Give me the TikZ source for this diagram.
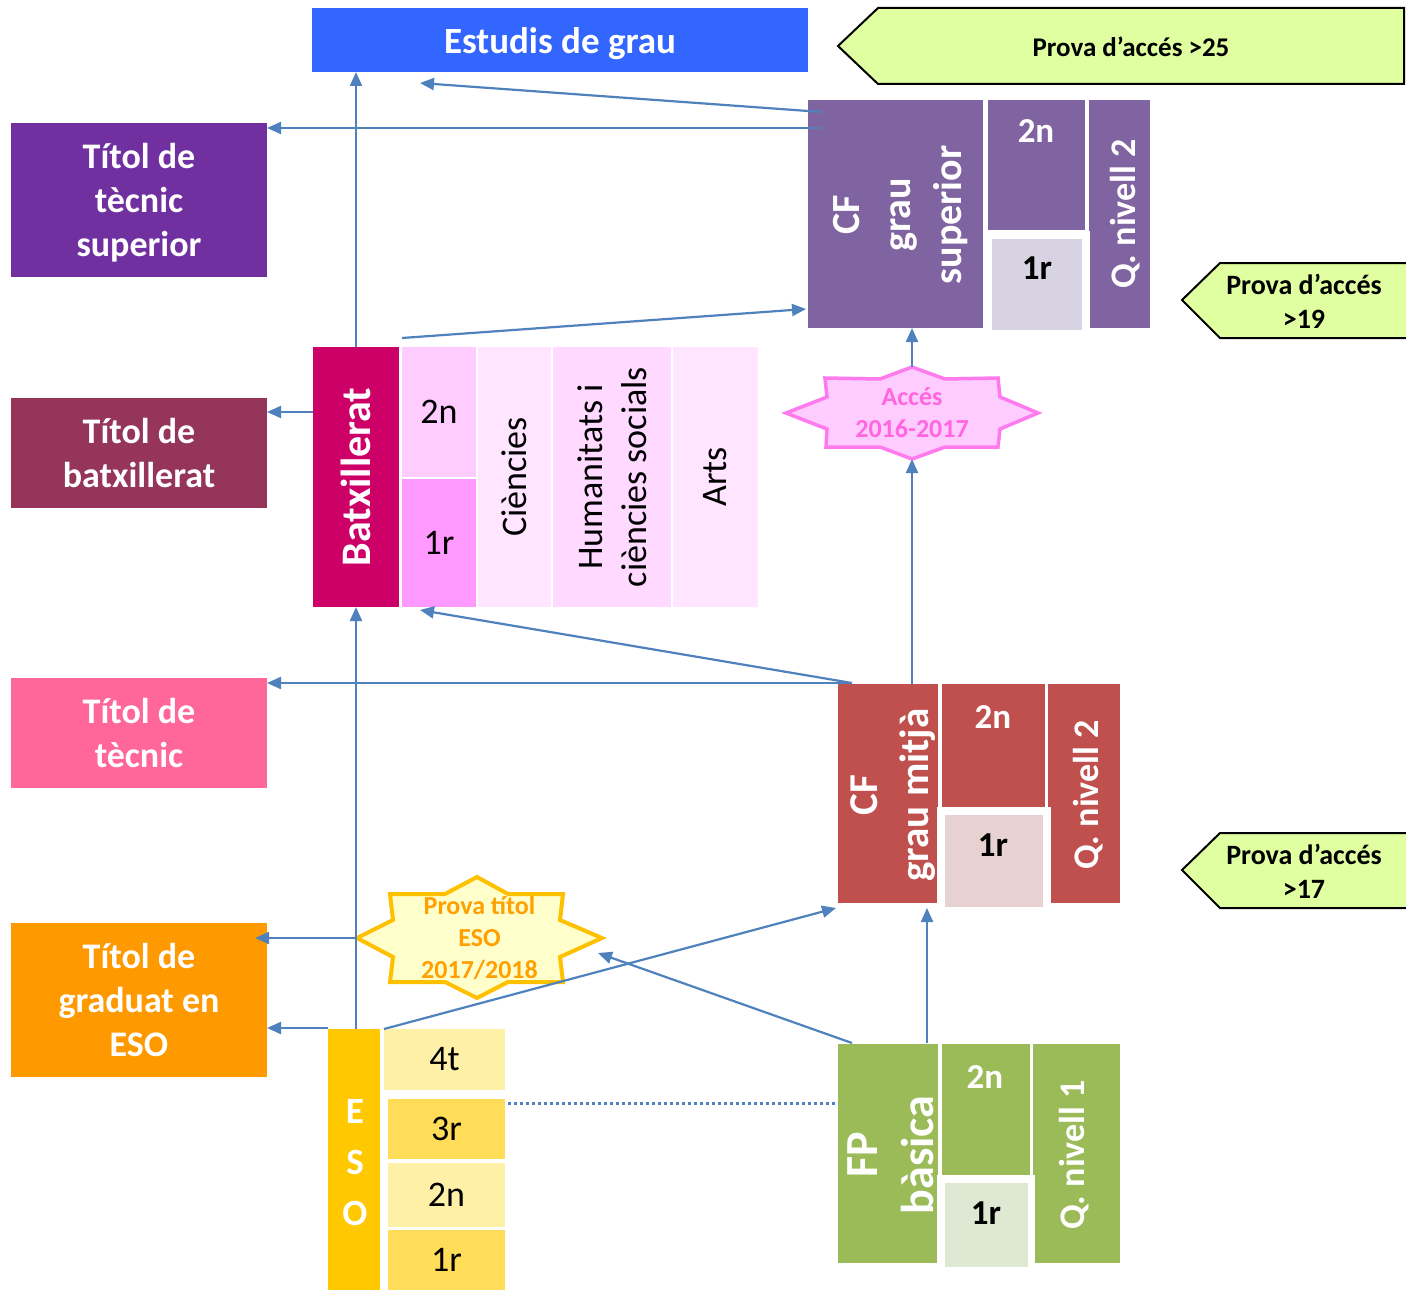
\documentclass[tikz,border=0pt]{standalone}
\usepackage{fontspec}
\setmainfont{Carlito}
\usetikzlibrary{arrows.meta,calc}
\definecolor{estblue}{HTML}{3366FF}
\definecolor{provag}{HTML}{E0FFA0}
\definecolor{tecsupc}{HTML}{7030A0}
\definecolor{cfsupc}{HTML}{8064A2}
\definecolor{cfsupl}{HTML}{D8D3E2}
\definecolor{titbatxc}{HTML}{953559}
\definecolor{batxc}{HTML}{CC0066}
\definecolor{batxtwo}{HTML}{FFCCFF}
\definecolor{batxone}{HTML}{FF99FF}
\definecolor{batxlt}{HTML}{FFE5FF}
\definecolor{batxhum}{HTML}{FFD9FF}
\definecolor{accfill}{HTML}{FFCCFF}
\definecolor{accdraw}{HTML}{FF7AEE}
\definecolor{acctext}{HTML}{FF66E0}
\definecolor{teccol}{HTML}{FF6699}
\definecolor{cfmitc}{HTML}{C0504D}
\definecolor{cfmitl}{HTML}{E8D1D1}
\definecolor{gradc}{HTML}{FF9900}
\definecolor{pesofill}{HTML}{FFFFCC}
\definecolor{pesodraw}{HTML}{FFC000}
\definecolor{pesotext}{HTML}{FF9F00}
\definecolor{esoc}{HTML}{FFC800}
\definecolor{esolt}{HTML}{FFF0A8}
\definecolor{esodk}{HTML}{FFDD59}
\definecolor{fpc}{HTML}{9BBB59}
\definecolor{fpl}{HTML}{DFE8D2}
\definecolor{connc}{HTML}{4F81BD}
\newcommand{\fsz}[2]{\fontsize{#1}{#2}\selectfont}
\begin{document}
\begin{tikzpicture}[x=1pt,y=-1pt,
  box/.style={inner sep=0pt, outer sep=0pt, anchor=north west, draw=none},
  titlebox/.style={box, minimum width=256, text=white, align=center, font=\fsz{36}{44}\bfseries},
  wtext/.style={text=white, align=center, inner sep=0pt},
  btext/.style={text=black, align=center, inner sep=0pt},
  conn/.style={draw=connc, line width=2.2pt, -{Triangle[length=14pt,width=12pt]}},
  dotline/.style={draw=connc, line width=3pt, dash pattern=on 3pt off 3pt},
  provabox/.style={draw=black, line width=2pt, fill=provag, line join=miter},
  startext/.style={inner sep=0pt, outer sep=0pt, align=center, font=\fsz{26}{32}\bfseries}
]
\useasboundingbox (0,0) rectangle (1406,1290);

% ---- top
\node[box, fill=estblue, minimum width=496, minimum height=64] (estudis) at (312,8) {};
\node[wtext, font=\fsz{37}{44}\bfseries] (estudistx) at (560,44) {Estudis de grau};
\draw[provabox] (838,46) -- (878,8) -- (1404,8) -- (1404,84) -- (878,84) -- cycle;
\node[btext, font=\fsz{27}{32}\bfseries] (p25) at (1131,47) {Prova d’accés >25};

% ---- titles
\node[box, fill=tecsupc, minimum width=256, minimum height=154] (tecsup) at (11,123) {};
\node[wtext, font=\fsz{36}{44}\bfseries] (tecsuptx) at (139,203) {Títol de\\tècnic\\superior};
\node[titlebox, fill=titbatxc, minimum height=110] (titbatx) at (11,398) {Títol de\\batxillerat};
\node[titlebox, fill=teccol, minimum height=110] (tectit) at (11,678) {Títol de\\tècnic};
\node[titlebox, fill=gradc, minimum height=154] (graduat) at (11,923) {Títol de\\graduat en\\ESO};

% ---- CF grau superior
\node[box, fill=cfsupc, minimum width=175, minimum height=228] (cfsup) at (808,100) {};
\node[box, fill=cfsupc, minimum width=97, minimum height=130] (cfsuptwo) at (988,100) {};
\node[box, fill=cfsupc, minimum width=61, minimum height=228] (cfsupq) at (1089,100) {};
\node[box, fill=white, minimum width=106, minimum height=102] (cfsupfr) at (984,231) {};
\node[box, fill=cfsupl, minimum width=90, minimum height=91] (cfsupone) at (992,239) {};
\node[wtext, rotate=90, font=\fsz{40}{51}\bfseries] (cfsuptx) at (901,215) {CF\\grau\\superior};
\node[wtext, font=\fsz{35}{42}\bfseries] (cfsuptwotx) at (1036,131) {2n};
\node[btext, font=\fsz{35}{42}\bfseries] (cfsuponetx) at (1037,268) {1r};
\node[wtext, rotate=90, font=\fsz{36}{44}\bfseries] (cfsupqtx) at (1125,214) {Q. nivell 2};
\draw[provabox] (1182,300) -- (1220,263) -- (1410,263) -- (1410,338) -- (1220,338) -- cycle;
\node[btext, font=\fsz{28}{34}\bfseries] (p19) at (1304,301) {Prova d’accés\\>19};

% ---- Batxillerat
\node[box, fill=batxc, minimum width=86, minimum height=260] (batx) at (313,347) {};
\node[box, fill=batxtwo, minimum width=74, minimum height=130, font=\fsz{36}{44}] (batxtwo) at (402,347) {2n};
\node[box, fill=batxone, minimum width=74, minimum height=128, font=\fsz{36}{44}] (batxone) at (402,479) {1r};
\node[box, fill=batxlt, minimum width=73, minimum height=260] (cien) at (478,347) {};
\node[box, fill=batxhum, minimum width=118, minimum height=260] (hum) at (553,347) {};
\node[box, fill=batxlt, minimum width=85, minimum height=260] (arts) at (673,347) {};
\node[wtext, rotate=90, font=\fsz{42}{50}\bfseries] (batxtx) at (batx.center) {Batxillerat};
\node[btext, rotate=90, font=\fsz{36}{44}] (cientx) at (cien.center) {Ciències};
\node[btext, rotate=90, font=\fsz{36}{44}] (humtx) at (hum.center) {Humanitats i\\ciències socials};
\node[btext, rotate=90, font=\fsz{36}{44}] (artstx) at (arts.center) {Arts};

% ---- Accés star
\draw[fill=accfill, draw=accdraw, line width=3.5pt, line join=miter]
  (912,367) -- (945,379) -- (998,378) -- (1000,397) -- (1038,413) -- (1000,429) -- (998,447) -- (945,447)
  -- (912,459) -- (880,447) -- (826,447) -- (827,429) -- (786,413) -- (827,397) -- (825,378) -- (880,379) -- cycle;
\node[startext, text=acctext, minimum width=252, minimum height=92] (acces) at (912,413) {Accés\\2016-2017};

% ---- CF grau mitja
\node[box, fill=cfmitc, minimum width=100, minimum height=219] (cfmit) at (838,684) {};
\node[box, fill=cfmitc, minimum width=103, minimum height=123] (cfmittwo) at (942,684) {};
\node[box, fill=cfmitc, minimum width=72, minimum height=219] (cfmitq) at (1048,684) {};
\node[box, fill=white, minimum width=114, minimum height=101] (cfmitfr) at (937,807) {};
\node[box, fill=cfmitl, minimum width=98, minimum height=92] (cfmitone) at (945,815) {};
\node[wtext, rotate=90, font=\fsz{41}{51}\bfseries] (cfmittx) at (893,795) {CF\\grau mitjà};
\node[wtext, font=\fsz{35}{42}\bfseries] (cfmittwotx) at (993,717) {2n};
\node[btext, font=\fsz{35}{42}\bfseries] (cfmitonetx) at (993,845) {1r};
\node[wtext, rotate=90, font=\fsz{36}{44}\bfseries] (cfmitqtx) at (1088,795) {Q. nivell 2};
\draw[provabox] (1182,870) -- (1220,833) -- (1410,833) -- (1410,908) -- (1220,908) -- cycle;
\node[btext, font=\fsz{28}{34}\bfseries] (p17) at (1304,871) {Prova d’accés\\>17};

% ---- FP basica
\node[box, fill=fpc, minimum width=100, minimum height=219] (fp) at (838,1044) {};
\node[box, fill=fpc, minimum width=88, minimum height=131] (fptwo) at (942,1044) {};
\node[box, fill=fpc, minimum width=87, minimum height=219] (fpq) at (1033,1044) {};
\node[box, fill=white, minimum width=98, minimum height=92] (fpfr) at (937,1175) {};
\node[box, fill=fpl, minimum width=83, minimum height=84] (fpone) at (945,1183) {};
\node[wtext, rotate=90, font=\fsz{46}{56}\bfseries] (fptx) at (891,1155) {FP\\bàsica};
\node[wtext, font=\fsz{35}{42}\bfseries] (fptwotx) at (985,1077) {2n};
\node[btext, font=\fsz{35}{42}\bfseries] (fponetx) at (986,1213) {1r};
\node[wtext, rotate=90, font=\fsz{36}{44}\bfseries] (fpqtx) at (1074,1155) {Q. nivell 1};

% ---- ESO
\node[box, fill=esoc, minimum width=52, minimum height=261] (esobar) at (328,1029) {};
\node[box, fill=esolt, minimum width=121, minimum height=61, font=\fsz{36}{44}] (esofour) at (384,1029) {4t};
\node[box, fill=esodk, minimum width=117, minimum height=60, font=\fsz{36}{44}] (esothree) at (388,1099) {3r};
\node[box, fill=esolt, minimum width=117, minimum height=64, font=\fsz{36}{44}] (esotwo) at (388,1163) {2n};
\node[box, fill=esodk, minimum width=117, minimum height=60, font=\fsz{36}{44}] (esoone) at (388,1230) {1r};
\node[wtext, font=\fsz{37}{51}\bfseries] (esotx) at (355,1163) {E\\S\\O};

% ---- Prova titol ESO star
\draw[fill=pesofill, draw=pesodraw, line width=4pt, line join=miter]
  (477,877) -- (508,894) -- (563,894) -- (560,920) -- (602,938) -- (560,957) -- (563,982) -- (508,982)
  -- (477,998) -- (445,982) -- (390,982) -- (393,957) -- (357,938) -- (393,920) -- (390,894) -- (445,894) -- cycle;
\node[startext, text=pesotext, minimum width=245, minimum height=121] (provaeso) at (479.5,938) {Prova títol\\ESO\\2017/2018};

% ---- connectors
\draw[conn] (batx.north) -- (batx.north |- estudis.south);
\coordinate (ctwos) at ($(cfsup.north west)+(14,12)$);
\coordinate (ctwoe) at ($(estudis.south west)+(108,11)$);
\draw[conn] (ctwos) -- (ctwoe);
\coordinate (cthrees) at ($(cfsup.north west)+(14,28)$);
\draw[conn] (cthrees) -- (cthrees -| tecsup.east);
\coordinate (cfours) at ($(batxtwo.north west)+(0,-9)$);
\coordinate (cfoure) at ($(cfsup.south west)+(-2,-19)$);
\draw[conn] (cfours) -- (cfoure);
\coordinate (cfives) at ($(batx.north west)+(0,65)$);
\draw[conn] (cfives) -- (cfives -| titbatx.east);
\draw[conn] (acces.south |- cfmit.north) -- (acces.south);
\draw[conn] (acces.north) -- (acces.north |- cfsup.south);
\coordinate (csevs) at ($(cfmit.north west)+(14,-1)$);
\coordinate (cseve) at ($(batxone.south west)+(18,3)$);
\draw[conn] (csevs) -- (cseve);
\draw[conn] (csevs) -- (csevs -| tectit.east);
\draw[conn] (batx.south |- esobar.north) -- (batx.south);
\coordinate (ctene) at ($(provaeso.west -| graduat.east)+(-12,0)$);
\draw[conn] (provaeso.west) -- (ctene);
\coordinate (celevs) at ($(esobar.north west)+(0,-1)$);
\draw[conn] (celevs) -- (celevs -| graduat.east);
\coordinate (ctwelve) at ($(cfmit.south west)+(-2,5)$);
\draw[conn] (esofour.north west) -- (ctwelve);
\coordinate (cthirs) at ($(fp.north west)+(14,-1)$);
\coordinate (cthire) at ($(provaeso.east)+(-4,15)$);
\draw[conn] (cthirs) -- (cthire);
\coordinate (cfourts) at ($(fp.north west)+(89,-1)$);
\coordinate (cfourte) at ($(cfourts |- cfmit.south)+(0,5)$);
\draw[conn] (cfourts) -- (cfourte);
\coordinate (cfifts) at ($(esothree.north east)+(3,4)$);
\draw[dotline] (cfifts) -- (cfifts -| fp.west);
\end{tikzpicture}
\end{document}
